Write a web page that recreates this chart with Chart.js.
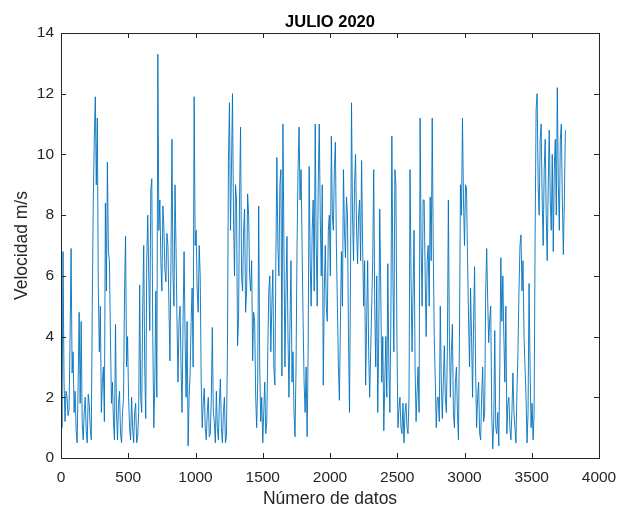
<!DOCTYPE html>
<html>
<head>
<meta charset="utf-8">
<title>JULIO 2020</title>
<script src="https://cdn.jsdelivr.net/npm/chart.js@4.4.1/dist/chart.umd.min.js"></script>
<style>
    html, body { margin: 0; padding: 0; background: #ffffff; }
    #chart { display: block; }
</style>
</head>
<body>
<canvas id="chart" width="619" height="510"></canvas>
<script>
// Velocidad del viento, una muestra cada 7.5 datos
const paso = 7.5;
const velocidad = [
    3.7, 1.0, 6.8, 2.5, 1.2, 2.2, 2.0, 1.4, 1.6, 4.0, 6.9, 2.8, 3.5, 1.5, 2.2, 0.9, 0.5, 2.5, 4.8, 1.8,
    4.5, 1.2, 0.6, 1.5, 2.0, 0.9, 0.5, 2.1, 1.8, 1.0, 0.6, 5.0, 8.4, 10.5, 11.9, 9.0, 11.2, 5.5, 3.5, 5.0,
    1.5, 2.5, 3.0, 1.2, 8.4, 5.5, 9.75, 6.8, 6.5, 4.0, 1.8, 2.5, 1.2, 0.6, 4.4, 1.5, 0.6, 1.8, 2.2, 0.8,
    0.5, 1.5, 2.0, 5.5, 7.3, 3.0, 4.0, 2.0, 1.0, 0.6, 2.0, 1.0, 0.5, 1.5, 1.8, 0.5, 0.7, 1.5, 5.7, 2.0,
    1.5, 5.0, 7.0, 3.0, 1.3, 6.5, 8.0, 6.0, 4.2, 8.8, 9.2, 4.0, 1.0, 2.5, 5.5, 2.0, 13.3, 7.5, 8.5, 6.5,
    5.5, 8.3, 7.6, 6.2, 5.8, 7.4, 7.0, 5.0, 3.2, 6.5, 10.5, 6.0, 5.0, 9.0, 7.0, 4.5, 2.5, 4.5, 5.0, 3.0,
    1.5, 4.5, 6.8, 4.0, 2.0, 4.5, 0.4, 2.0, 2.8, 4.5, 5.6, 3.0, 11.9, 7.0, 7.5, 5.5, 4.8, 7.0, 6.0, 2.5,
    1.0, 1.8, 2.3, 1.0, 0.6, 1.5, 2.0, 0.7, 0.8, 2.0, 4.3, 1.5, 1.2, 0.5, 2.2, 1.0, 0.6, 1.8, 2.6, 1.0,
    0.5, 1.5, 2.0, 0.5, 0.7, 3.5, 9.8, 11.7, 7.5, 9.5, 12.0, 8.0, 6.0, 9.0, 8.5, 3.7, 4.5, 8.6, 10.9, 6.0,
    5.5, 7.5, 8.2, 4.8, 5.5, 8.7, 8.0, 6.0, 5.5, 6.5, 3.2, 4.8, 4.5, 2.0, 1.0, 2.5, 8.3, 3.0, 1.2, 2.0,
    0.5, 1.5, 2.5, 0.8, 1.2, 3.5, 5.5, 6.0, 3.5, 5.0, 6.2, 3.0, 2.4, 6.5, 9.9, 7.0, 6.0, 9.0, 9.5, 2.7,
    11.0, 7.0, 3.0, 5.5, 7.3, 4.0, 2.0, 4.5, 6.5, 2.5, 3.5, 1.5, 0.7, 3.0, 7.0, 9.5, 10.9, 8.5, 9.5, 7.0,
    4.5, 2.5, 1.5, 3.0, 0.7, 3.5, 9.6, 6.5, 5.0, 7.5, 8.5, 5.5, 11.0, 7.0, 5.0, 9.0, 11.0, 8.0, 6.0, 9.0,
    2.4, 5.5, 7.0, 5.0, 4.5, 7.5, 8.0, 6.0, 10.6, 8.0, 7.5, 9.5, 10.4, 7.0, 5.0, 3.0, 1.9, 4.5, 6.8, 5.0,
    9.5, 7.5, 6.6, 8.6, 8.0, 4.0, 1.5, 6.0, 11.7, 8.0, 6.5, 9.0, 10.0, 7.5, 6.4, 8.0, 8.5, 6.5, 9.8, 7.0,
    5.0, 6.5, 2.4, 4.5, 6.5, 3.5, 2.0, 3.5, 5.0, 6.5, 9.5, 5.0, 3.0, 6.0, 1.5, 4.0, 8.2, 5.5, 2.5, 4.0,
    0.9, 2.5, 4.0, 2.0, 6.4, 3.0, 1.5, 4.5, 10.6, 6.0, 3.5, 9.5, 9.0, 4.0, 1.0, 1.6, 2.0, 1.0, 0.8, 1.8,
    0.5, 1.5, 1.8, 1.0, 0.8, 2.0, 9.5, 6.0, 3.5, 5.5, 7.5, 3.0, 1.2, 2.2, 3.0, 1.5, 11.2, 7.0, 5.0, 8.5,
    8.5, 6.0, 4.0, 6.5, 7.0, 5.0, 8.6, 6.5, 11.2, 7.0, 4.0, 2.6, 1.0, 2.0, 2.0, 1.2, 5.0, 2.5, 1.3, 2.5,
    3.7, 2.0, 1.5, 3.5, 8.5, 4.0, 2.0, 3.5, 4.4, 1.5, 1.0, 2.5, 3.0, 1.5, 0.6, 4.0, 9.0, 8.0, 11.2, 8.5,
    7.0, 9.0, 8.9, 6.6, 4.6, 3.0, 5.6, 4.0, 2.0, 4.5, 6.3, 3.0, 1.0, 2.0, 2.5, 0.8, 0.6, 2.0, 3.0, 1.2,
    1.5, 5.5, 6.9, 5.2, 3.8, 4.6, 5.0, 1.5, 0.3, 1.2, 4.2, 1.0, 0.8, 1.5, 0.4, 3.0, 6.6, 4.5, 6.0, 4.0,
    2.5, 5.0, 0.8, 1.8, 2.0, 1.0, 0.6, 1.5, 2.8, 1.5, 1.0, 0.5, 2.2, 3.5, 5.5, 7.0, 7.35, 5.5, 6.5, 4.0,
    3.0, 2.0, 0.5, 1.5, 5.75, 3.0, 1.0, 1.8, 0.6, 1.5, 7.3, 11.5, 12.0, 9.0, 8.0, 10.5, 11.0, 8.5, 7.0, 9.5,
    10.5, 8.0, 6.5, 9.0, 10.8, 8.5, 7.5, 10.0, 6.8, 9.5, 10.5, 8.0, 12.2, 9.0, 7.5, 10.5, 11.0, 8.5, 6.7, 8.5, 10.8
];

const ticksX = [0, 500, 1000, 1500, 2000, 2500, 3000, 3500, 4000];
const ticksY = [0, 2, 4, 6, 8, 10, 12, 14];

const titulo = 'JULIO 2020';
const ejeX = 'Número de datos';
const ejeY = 'Velocidad m/s';

const colorEjes = '#262626';
const colorLinea = '#0072BD';
const fuente = '"Liberation Sans", Arial, sans-serif';

const puntos = velocidad.map((v, i) => ({ x: i * paso, y: v }));

// Caja y marcas hacia adentro, al estilo de MATLAB
const cajaPlugin = {
    id: 'caja',
    afterDraw(chart) {
        const ctx = chart.ctx;
        const a = chart.chartArea;
        const sx = chart.scales.x;
        const sy = chart.scales.y;
        const largo = 5;
        ctx.save();
        ctx.strokeStyle = colorEjes;
        ctx.lineWidth = 1;
        ctx.beginPath();
        ticksX.forEach(t => {
            const px = Math.round(sx.getPixelForValue(t)) + 0.5;
            ctx.moveTo(px, a.bottom);
            ctx.lineTo(px, a.bottom - largo);
            ctx.moveTo(px, a.top);
            ctx.lineTo(px, a.top + largo);
        });
        ticksY.forEach(t => {
            const py = Math.round(sy.getPixelForValue(t)) + 0.5;
            ctx.moveTo(a.left, py);
            ctx.lineTo(a.left + largo, py);
            ctx.moveTo(a.right, py);
            ctx.lineTo(a.right - largo, py);
        });
        ctx.stroke();
        ctx.strokeRect(Math.round(a.left) + 0.5, Math.round(a.top) + 0.5,
            Math.round(a.right - a.left), Math.round(a.bottom - a.top));

        // titulo
        ctx.fillStyle = 'black';
        ctx.font = 'bold 16.5px ' + fuente;
        ctx.textAlign = 'center';
        ctx.textBaseline = 'alphabetic';
        ctx.fillText(titulo, (a.left + a.right) / 2, 27);
        ctx.restore();
    }
};

new Chart(document.getElementById('chart'), {
    type: 'line',
    data: {
        datasets: [{
            data: puntos,
            borderColor: colorLinea,
            borderWidth: 0.9,
            pointRadius: 0,
            tension: 0,
            fill: false
        }]
    },
    options: {
        responsive: false,
        animation: false,
        devicePixelRatio: 1,
        layout: { padding: { top: 33, right: 20, left: 0, bottom: 0 } },
        plugins: {
            legend: { display: false },
            tooltip: { enabled: false }
        },
        scales: {
            x: {
                type: 'linear',
                min: 0,
                max: 4000,
                grid: { display: false, drawTicks: false },
                border: { display: false },
                afterBuildTicks: s => { s.ticks = ticksX.map(v => ({ value: v })); },
                afterFit: s => {
                    s.height = 52;
                    s.paddingLeft = 0;
                    s.paddingRight = 0;
                },
                ticks: {
                    color: colorEjes,
                    padding: 10,
                    maxRotation: 0,
                    callback: v => String(v),
                    font: { family: fuente, size: 15.5 }
                },
                title: {
                    display: true,
                    text: ejeX,
                    color: colorEjes,
                    padding: { top: 0, bottom: 0 },
                    font: { family: fuente, size: 17.5 }
                }
            },
            y: {
                min: 0,
                max: 14,
                grid: { display: false, drawTicks: false },
                border: { display: false },
                afterBuildTicks: s => { s.ticks = ticksY.map(v => ({ value: v })); },
                afterFit: s => {
                    s.width = 61;
                    s.paddingTop = 0;
                    s.paddingBottom = 0;
                },
                ticks: {
                    color: colorEjes,
                    padding: 7,
                    callback: v => String(v),
                    font: { family: fuente, size: 15.5 }
                },
                title: {
                    display: true,
                    text: ejeY,
                    color: colorEjes,
                    padding: { top: 12, bottom: 0 },
                    font: { family: fuente, size: 17.5 }
                }
            }
        }
    },
    plugins: [cajaPlugin]
});
</script>
</body>
</html>
